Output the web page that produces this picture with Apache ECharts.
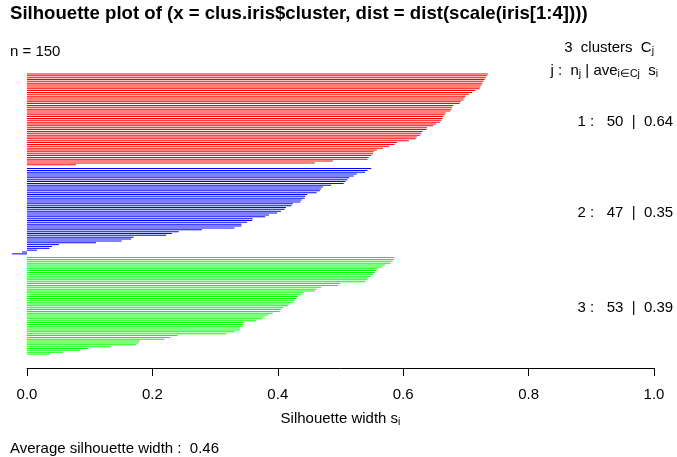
<!DOCTYPE html>
<html><head><meta charset="utf-8">
<script src="https://cdn.jsdelivr.net/npm/echarts@6/dist/echarts.min.js"></script>
<style>html,body{margin:0;padding:0;background:#fff}#c{width:677px;height:457px}</style>
</head><body><div id="c"></div>
<script>
// ---- data ----
const clusterIds = [1, 2, 3];
const clusterSizes = [50, 47, 53];
const clusterAve = [0.64, 0.35, 0.39];
const avgSilWidth = 0.46;
const nTotal = 150;
const clusterColors = ['#FF0000', '#0000FF', '#00FF00'];
const xTicks = [0, 0.2, 0.4, 0.6, 0.8, 1.0];
const sil1 = [0.735,0.734,0.732,0.730,0.728,0.726,0.725,0.723,0.722,0.715,
  0.710,0.705,0.700,0.698,0.696,0.692,0.690,0.680,0.678,0.677,
  0.675,0.668,0.666,0.664,0.663,0.661,0.659,0.652,0.648,0.638,
  0.637,0.631,0.629,0.627,0.622,0.620,0.609,0.590,0.586,0.578,
  0.568,0.558,0.553,0.552,0.549,0.545,0.543,0.488,0.459,0.078];
const sil2 = [0.549,0.543,0.539,0.526,0.521,0.514,0.511,0.508,0.505,0.485,
  0.472,0.469,0.467,0.462,0.447,0.444,0.443,0.438,0.436,0.424,
  0.422,0.413,0.411,0.405,0.399,0.386,0.380,0.360,0.359,0.351,
  0.342,0.342,0.331,0.279,0.242,0.231,0.222,0.170,0.166,0.151,
  0.110,0.051,0.040,0.036,0.016,-0.008,-0.024];
const sil3 = [0.586,0.585,0.583,0.580,0.571,0.567,0.560,0.557,0.555,0.552,
  0.548,0.544,0.543,0.539,0.500,0.496,0.469,0.462,0.459,0.441,
  0.437,0.432,0.430,0.427,0.425,0.419,0.416,0.409,0.405,0.403,
  0.392,0.385,0.379,0.375,0.366,0.346,0.345,0.344,0.340,0.339,
  0.331,0.318,0.240,0.229,0.219,0.180,0.178,0.174,0.133,0.097,
  0.085,0.057,0.037];

// ---- build slots (padding, cluster bars, one-slot gaps) ----
const clusters = [sil1, sil2, sil3];
const PAD = 7;
const slots = [];
const mids = [];
const starts = [];
for (let i = 0; i < PAD; i++) slots.push('p' + i);
clusters.forEach((arr, k) => {
  const start = slots.length;
  starts.push(start);
  arr.forEach((v, j) => slots.push('c' + k + '_' + j));
  mids.push(start + (arr.length - 1) / 2);
  if (k < clusters.length - 1) slots.push('g' + k);
});
for (let i = 0; i < PAD; i++) slots.push('q' + i);
const seriesData = clusters.map((arr, k) => {
  const d = new Array(slots.length).fill('-');
  arr.forEach((v, j) => { d[starts[k] + j] = v; });
  return d;
});

const FONT = 'Liberation Sans, Arial, sans-serif';
const FS = 15;
const chart = echarts.init(document.getElementById('c'), null, {renderer: 'canvas'});
chart.setOption({
  animation: false,
  backgroundColor: '#fff',
  grid: {left: 27, right: 23, top: 60, bottom: 89, containLabel: false},
  xAxis: {
    type: 'value', min: 0, max: 1, interval: 0.2,
    axisLine: {show: true, lineStyle: {color: '#000', width: 1}},
    axisTick: {show: true, inside: false, length: 8, lineStyle: {color: '#000'}},
    axisLabel: {show: true, margin: 19, color: '#000', fontFamily: FONT, fontSize: FS,
      formatter: v => v.toFixed(1)},
    splitLine: {show: false}
  },
  yAxis: {
    type: 'category', data: slots, inverse: true, boundaryGap: true,
    axisLine: {show: false}, axisTick: {show: false}, axisLabel: {show: false}, splitLine: {show: false}
  },
  series: clusters.map((arr, k) => ({
    type: 'bar', data: seriesData[k], barWidth: 1, barGap: '-100%', clip: false,
    itemStyle: {color: clusterColors[k]}, silent: true
  }))
});

const ctx = document.createElement('canvas').getContext('2d');
function textW(t, f) { ctx.font = f; return ctx.measureText(t).width; }

const rich = {
  n: {fontFamily: FONT, fontSize: FS, color: '#000'},
  sub: {fontFamily: FONT, fontSize: 10.5, color: '#000', padding: [8, 0, 0, 0]}
};
const x1 = chart.convertToPixel({xAxisIndex: 0}, 1);
const xMid = chart.convertToPixel({xAxisIndex: 0}, 0.5);
const graphics = [
  {type: 'text', left: 10, top: 4, style: {text: 'Silhouette plot of (x = clus.iris$cluster, dist = dist(scale(iris[1:4])))',
    font: 'bold 18.6px ' + FONT, fill: '#000'}},
  {type: 'text', left: 10, top: 44, style: {text: 'n = ' + nTotal, font: FS + 'px ' + FONT, fill: '#000'}},
  {type: 'text', x: x1, y: 38, style: {rich: rich, align: 'right', text: '{n|' + clusters.length + '  clusters  C}{sub|j}'}},
  {type: 'text', x: x1 + 4, y: 61, style: {rich: rich, align: 'right', text: '{n|j :  n}{sub|j}{n| | ave}{sub|i\u2208Cj}{n|  s}{sub|i}'}},
  {type: 'text', left: 10, top: 441, style: {text: 'Average silhouette width :  ' + avgSilWidth.toFixed(2), font: FS + 'px ' + FONT, fill: '#000'}},
  {type: 'text', x: xMid, y: 409, style: {rich: rich, text: '{n|Silhouette width s}{sub|i}', align: 'center'}}
];
mids.forEach((m, k) => {
  const y = chart.convertToPixel({yAxisIndex: 0}, m);
  const t = clusterIds[k] + ' :   ' + clusterSizes[k] + '  |  ' + clusterAve[k].toFixed(2);
  const w = textW(t, FS + 'px ' + FONT);
  graphics.push({type: 'text', x: x1 - 0.8 * w, y: y + 2, style: {text: t, font: FS + 'px ' + FONT, fill: '#000', verticalAlign: 'middle'}});
});
chart.setOption({graphic: graphics});
</script></body></html>
